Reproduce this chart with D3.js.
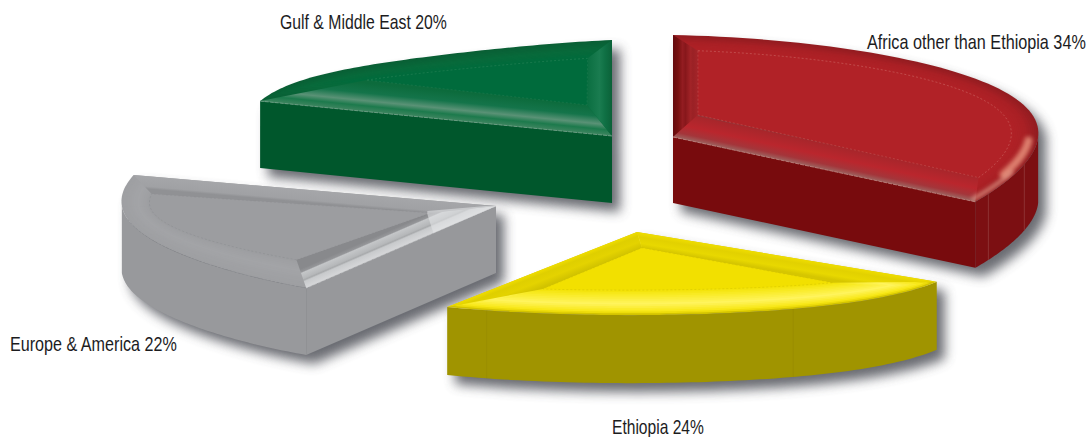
<!DOCTYPE html>
<html>
<head>
<meta charset="utf-8">
<script src="https://cdn.jsdelivr.net/npm/d3@7"></script>
<style>
  html, body { margin: 0; padding: 0; background: #fff; overflow: hidden; }
  text { font-family: "Liberation Sans Narrow", "Liberation Sans", sans-serif; fill: #1c1c1e; }
</style>
</head>
<body>
<svg id="chart" width="1089" height="437"></svg>
<script>
// Share of the total by destination, clockwise from twelve o'clock.
const categories = ["Africa other than Ethiopia", "Ethiopia", "Europe & America", "Gulf & Middle East"];
const shares = [34, 24, 22, 20];

// Exploded placement and look of each wedge, in the same order as the categories.
const wedgeLayouts = [
  { c: [673, 137], rx: [385, 358, 0], ry: [102, 121, -11], h: 66,
    bevel: [27, 15], apex: [25, -22], trim: [4, 9], seams: [118.5, 104],
    side: "#7c0f12", face: "#780b0d", seam: "#9a4a4a", top: "#b12227", dot: "#d98a84",
    arcBand: [[0, "#931d21"], [0.45, "#a92025"], [1, "#b12227"]],
    startBand: [[0, "#a52429"], [0.2, "#9a2125"], [0.3, "#a12327"], [0.5, "#87171b"], [0.62, "#931c21"], [0.8, "#76100f"], [1, "#640a0e"]],
    endBand: [[0, "#86383a"], [0.07, "#a8262b"], [0.5, "#ba262d"], [0.8, "#a4353a"], [1, "#9c6460"]],
    edge: "#c98f8a", label: [867, 49, 219] },
  { c: [637, 232], rx: [355, 394, 0], ry: [93, 85.6, -5.7], h: 68,
    bevel: [25, 25], apex: [5, 16], trim: [22.6, 13.8], seams: [155, 202.6],
    side: "#a09400", face: "#a09400", seam: "#958a00", top: "#f2e000", dot: "#c9b900",
    arcBand: [[0, "#d3c300"], [0.1, "#f7e610"], [0.42, "#fff45e"], [0.8, "#f8ea20"], [1, "#f2e000"]],
    startBand: [[0, "#d6c600"], [0.3, "#e8d800"], [0.7, "#e2d100"], [1, "#efdd00"]],
    endBand: [[0, "#d2c300"], [0.4, "#e4d300"], [0.75, "#dfcf00"], [1, "#efdd00"]],
    edge: "#dccb00", label: [612, 434, 92] },
  { c: [496, 206], rx: [394, 381, -15], ry: [93.6, 100, -8.7], h: 67,
    bevel: [28, 28], apex: [-66, 7], trim: [4.6, 8], seams: [],
    side: "#98999c", face: "#97989b", seam: "#8d8e92", top: "#9c9da0", dot: "#87888c",
    arcBand: [[0, "#9e9fa2"], [0.6, "#a3a4a7"], [1, "#9c9da0"]],
    startBand: [[0, "#88898c"], [0.16, "#959699"], [0.22, "#c4c6c8"], [0.5, "#b6b8ba"], [0.58, "#a8aaac"], [0.66, "#c8cacc"], [1, "#d6d7d9"]],
    endBand: [[0, "#909194"], [0.2, "#a0a1a4"], [1, "#a5a6a9"]],
    edge: "#c9cacc", label: [10, 351, 167] },
  { c: [612, 136], rx: [370, 370, 0], ry: [113, 96, -12], h: 67,
    bevel: [20, 17], apex: [-25, -31], trim: [27.6, 4], seams: [],
    side: "#00572c", face: "#00572c", seam: "#0a6236", top: "#006b3c", dot: "#3f8f68",
    arcBand: [[0, "#0a5f35"], [0.5, "#086a3b"], [1, "#006b3c"]],
    startBand: [[0, "#0c6b3c"], [0.35, "#14744a"], [0.62, "#5a9276"], [0.8, "#1c7a4c"], [1, "#3f8560"]],
    endBand: [[0, "#0a6e40"], [0.5, "#1a7c50"], [0.72, "#0f7044"], [1, "#0b6138"]],
    edge: "#7fae95", label: [280, 29, 167] }
];

// Wedges are painted back to front, so a shadow only falls on what sits behind it.
const paintOrder = [3, 2, 0, 1];

const svg = d3.select("#chart");
const defs = svg.append("defs");
const W = 1089, H = 437;

const shadowBlur = defs.append("filter").attr("id", "shadowBlur")
  .attr("filterUnits", "userSpaceOnUse")
  .attr("x", 0).attr("y", 0).attr("width", W).attr("height", H);
shadowBlur.append("feGaussianBlur").attr("stdDeviation", 6);
const softGlow = defs.append("filter").attr("id", "softGlow")
  .attr("filterUnits", "userSpaceOnUse")
  .attr("x", 0).attr("y", 0).attr("width", W).attr("height", H);
softGlow.append("feGaussianBlur").attr("stdDeviation", 2.2);

const slices = d3.pie().sort(null).value(d => d).startAngle(0).endAngle(2 * Math.PI)(shares);
const line = d3.line();
const rad = d3.scaleLinear().domain([0, 180]).range([0, Math.PI]);

// Maps a wedge's polar coordinates onto the tilted top plane.
function projector(slice, layout) {
  const span = d3.scaleLinear().domain([slice.startAngle, slice.endAngle]).range([0, 1]);
  const radius = ([a, b, sag], t) => a + (b - a) * t + sag * Math.sin(Math.PI * t);
  return (angle, insetX = 0, insetY = 0) => {
    const t = span(angle);
    return [
      layout.c[0] + (radius(layout.rx, t) - insetX) * Math.sin(angle),
      layout.c[1] - (radius(layout.ry, t) - insetY) * Math.cos(angle)
    ];
  };
}

const drop = ([x, y], h) => [x, y + h];
const closed = pts => line(pts) + "Z";
const mix = (p, q, k) => [p[0] + (q[0] - p[0]) * k, p[1] + (q[1] - p[1]) * k];

function bandGradient(id, stops, from, outerA, outerB) {
  const dx = outerB[0] - outerA[0], dy = outerB[1] - outerA[1];
  const len = Math.hypot(dx, dy);
  let nx = -dy / len, ny = dx / len;
  let dist = (outerA[0] - from[0]) * nx + (outerA[1] - from[1]) * ny;
  if (dist < 0) { nx = -nx; ny = -ny; dist = -dist; }
  const g = defs.append("linearGradient").attr("id", id)
    .attr("gradientUnits", "userSpaceOnUse")
    .attr("x1", from[0]).attr("y1", from[1])
    .attr("x2", from[0] + nx * dist).attr("y2", from[1] + ny * dist);
  g.selectAll("stop").data(stops).join("stop")
    .attr("offset", d => d[0]).attr("stop-color", d => d[1]);
  return `url(#${id})`;
}

paintOrder.forEach(index => {
  const slice = slices[index], L = wedgeLayouts[index];
  const a0 = slice.startAngle, a1 = slice.endAngle;
  const P = projector(slice, L);
  const group = svg.append("g").attr("class", "wedge");

  const arcAngles = (from, to, inX = 0, inY = 0, n = 70) =>
    d3.range(n + 1).map(i => P(from + (to - from) * i / n, inX, inY));

  const outerArc = arcAngles(a0, a1);
  const topOutline = [L.c, ...outerArc];

  // Faces that turn toward the viewer.
  const sideFaces = [];
  const visFrom = Math.max(a0, Math.PI / 2), visTo = Math.min(a1, 1.5 * Math.PI);
  if (visTo > visFrom) {
    const upper = arcAngles(visFrom, visTo);
    sideFaces.push({ pts: [...upper, ...upper.slice().reverse().map(p => drop(p, L.h))], fill: L.side });
  }
  if (Math.sin(a1) > 0.001) {
    const e = P(a1);
    sideFaces.push({ pts: [L.c, e, drop(e, L.h), drop(L.c, L.h)], fill: L.face });
  }
  if (-Math.sin(a0) > 0.001) {
    const e = P(a0);
    sideFaces.push({ pts: [L.c, e, drop(e, L.h), drop(L.c, L.h)], fill: L.face });
  }

  // Soft cast shadow of the whole solid.
  const shadow = group.append("g")
    .attr("filter", "url(#shadowBlur)")
    .attr("transform", "translate(8,9)")
    .attr("opacity", 0.82);
  [topOutline, ...sideFaces.map(f => f.pts)].forEach(pts =>
    shadow.append("path").attr("d", closed(pts)).attr("fill", "#4a4c52"));

  sideFaces.forEach(f =>
    group.append("path").attr("d", closed(f.pts)).attr("fill", f.fill));

  // Vertical panel seams on the curved side.
  L.seams.forEach(deg => {
    const p = P(rad(deg));
    group.append("path").attr("d", line([p, drop(p, L.h)]))
      .attr("stroke", L.seam).attr("stroke-width", 0.6).attr("fill", "none");
  });

  // Top plate: concentric blend from the outer rim to the flat inner face.
  const trimFrom = a0 + rad(L.trim[0]), trimTo = a1 - rad(L.trim[1]);
  const innerApex = [L.c[0] + L.apex[0], L.c[1] + L.apex[1]];
  const innerArc = arcAngles(trimFrom, trimTo, L.bevel[0], L.bevel[1]);
  const innerFace = [innerApex, ...innerArc];

  const rimColor = d3.scaleLinear()
    .domain(L.arcBand.map(d => d[0])).range(L.arcBand.map(d => d[1]));
  const steps = 14;
  d3.range(steps + 1).forEach(i => {
    const k = i / steps;
    const arcPts = arcAngles(a0 + (trimFrom - a0) * k, a1 + (trimTo - a1) * k,
      L.bevel[0] * k, L.bevel[1] * k);
    group.append("path").attr("d", closed([mix(L.c, innerApex, k), ...arcPts]))
      .attr("fill", rimColor(k));
  });

  // Mitred bevels along the two straight edges.
  const startOuter = P(a0), endOuter = P(a1);
  const startInner = innerArc[0], endInner = innerArc[innerArc.length - 1];
  group.append("path")
    .attr("d", closed([L.c, startOuter, startInner, innerApex]))
    .attr("fill", bandGradient(`start-${index}`, L.startBand, innerApex, L.c, startOuter));
  group.append("path")
    .attr("d", closed([L.c, endOuter, endInner, innerApex]))
    .attr("fill", bandGradient(`end-${index}`, L.endBand, innerApex, L.c, endOuter));

  group.append("path").attr("d", closed(innerFace)).attr("fill", L.top);

  // Fine dotted guide around the inner face.
  group.append("path").attr("d", line(innerArc))
    .attr("fill", "none").attr("stroke", L.dot).attr("stroke-width", 0.6)
    .attr("stroke-dasharray", "2 2").attr("opacity", 0.65);
  group.append("path").attr("d", line([startInner, innerApex, endInner]))
    .attr("fill", "none").attr("stroke", L.dot).attr("stroke-width", 0.6)
    .attr("stroke-dasharray", "2 2").attr("opacity", 0.45);

  // Pale dashed highlight on the front top edges.
  const frontEdges = [];
  if (Math.sin(a1) > 0.001) frontEdges.push([L.c, endOuter]);
  if (-Math.sin(a0) > 0.001) frontEdges.push([L.c, startOuter]);
  frontEdges.forEach(pts => {
    group.append("path").attr("d", line(pts))
      .attr("fill", "none").attr("stroke", L.edge).attr("stroke-width", 0.7)
      .attr("stroke-dasharray", "4 1");
  });

  const clipId = `top-clip-${index}`;
  defs.append("clipPath").attr("id", clipId).append("path").attr("d", closed(topOutline));

  // Specular accents.
  if (index === 0) {
    const sheen = group.append("g").attr("clip-path", `url(#${clipId})`);
    sheen.append("path")
      .attr("d", line(arcAngles(rad(92), rad(110), 9, 6)))
      .attr("fill", "none").attr("stroke", "#e8917c").attr("stroke-width", 8)
      .attr("stroke-linecap", "round").attr("opacity", 0.85).attr("filter", "url(#softGlow)");
    sheen.append("path")
      .attr("d", line(arcAngles(rad(108), a1, 4, 4)))
      .attr("fill", "none").attr("stroke", "#f0b09c").attr("stroke-width", 4)
      .attr("opacity", 0.7).attr("filter", "url(#softGlow)");
  }
  if (index === 2) {
    const a = L.c, b = mix(L.c, startOuter, 0.33);
    const c = mix(innerApex, startInner, 0.02);
    group.append("path")
      .attr("d", closed([a, b, c, [c[0], c[1] - 3], [a[0] - 10, a[1]]]))
      .attr("fill", "#e6e8ea").attr("opacity", 0.55);
    // Rolled-edge line between top plate and curved side.
    group.append("path").attr("d", line(arcAngles(a0, rad(262))))
      .attr("fill", "none").attr("stroke", "#85868a").attr("stroke-width", 0.5)
      .attr("stroke-dasharray", "2 2");
  }
});

// Category labels with their share, squeezed horizontally to a condensed set width.
svg.append("g").selectAll("text")
  .data(categories)
  .join("text")
  .attr("font-size", 20)
  .text((d, i) => `${d} ${shares[i]}%`)
  .attr("transform", function (d, i) {
    const [x, y, width] = wedgeLayouts[i].label;
    return `translate(${x},${y}) scale(${width / this.getComputedTextLength()},1)`;
  });
</script>
</body>
</html>
